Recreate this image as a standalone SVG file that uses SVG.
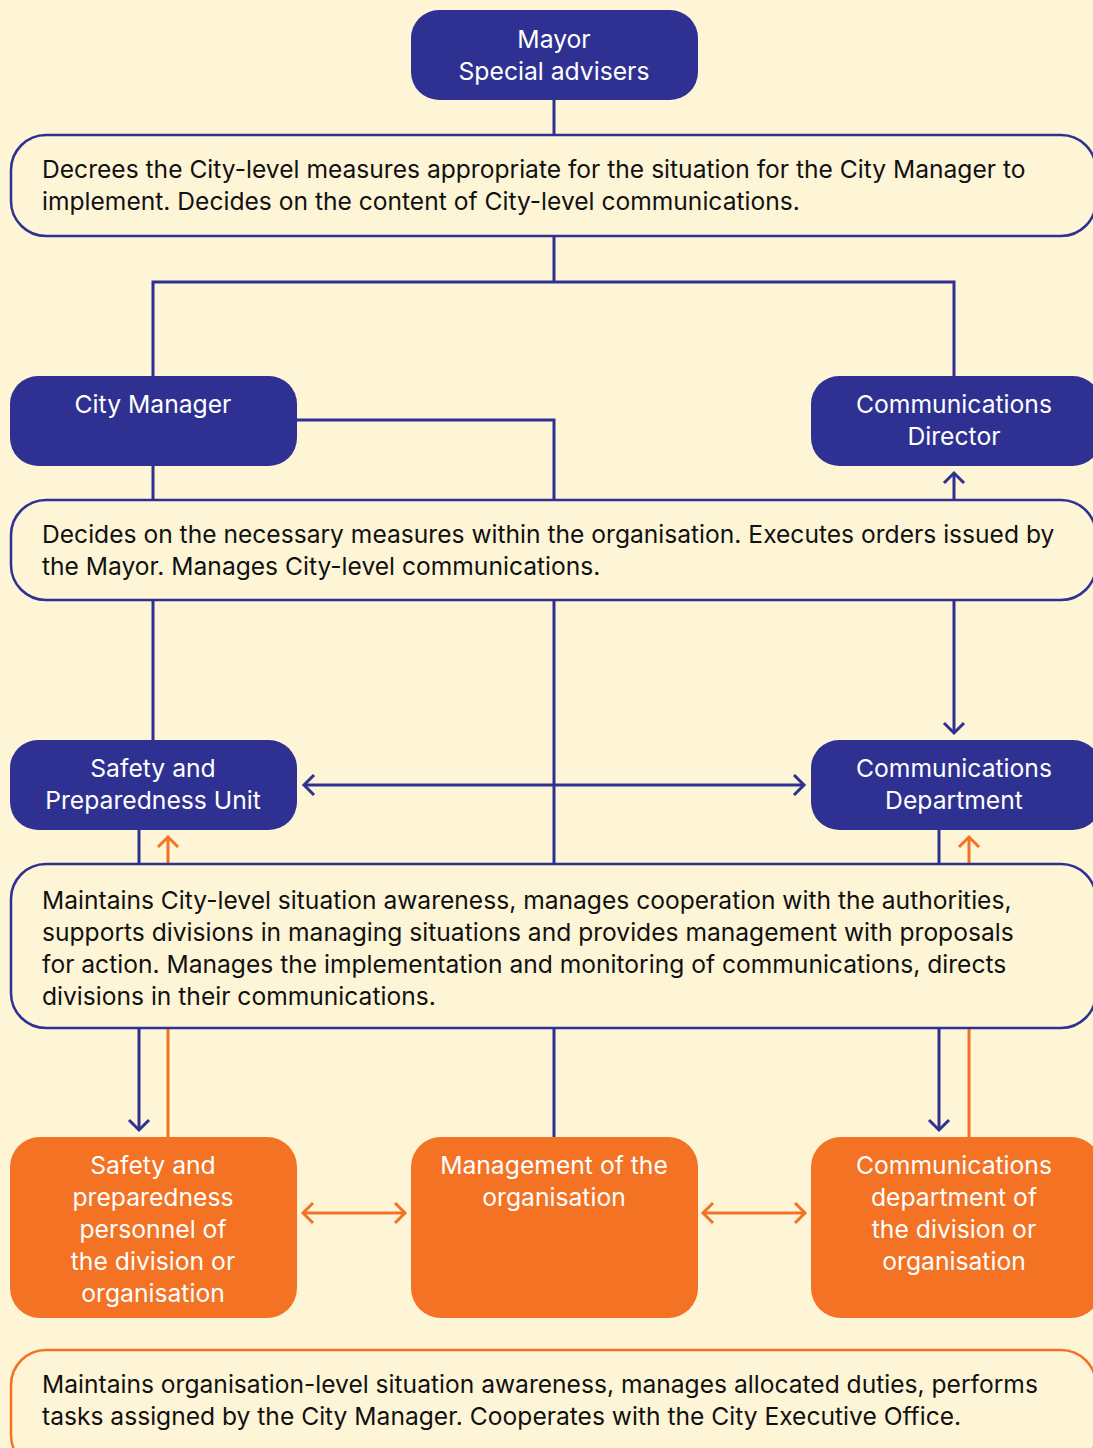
<svg xmlns="http://www.w3.org/2000/svg" width="1093" height="1448" viewBox="0 0 1093 1448">
<style>
.bg{fill:#FEF5D6}
.nv{fill:#2E3192}
.or{fill:#F37224}
.tb{fill:#FEF5D6;stroke:#2E3192;stroke-width:2.5}
.tbo{fill:#FEF5D6;stroke:#F37224;stroke-width:2.5}
.wt{font-family:Inter,"Liberation Sans",Arial,sans-serif;font-size:24.7px;fill:#ffffff;text-anchor:middle}
.bt{font-family:Inter,"Liberation Sans",Arial,sans-serif;font-size:24.6px;fill:#111111}
.cn{fill:none;stroke:#2E3192;stroke-width:3}
.co{fill:none;stroke:#F37224;stroke-width:3}
</style>
<defs>
<marker id="an" markerUnits="userSpaceOnUse" markerWidth="24" markerHeight="24" viewBox="-12 -12 24 24" refX="0" refY="0" orient="auto-start-reverse">
<path d="M-10,-10 L0,0 L-10,10" fill="none" stroke="#2E3192" stroke-width="3"/>
</marker>
<marker id="ao" markerUnits="userSpaceOnUse" markerWidth="24" markerHeight="24" viewBox="-12 -12 24 24" refX="0" refY="0" orient="auto-start-reverse">
<path d="M-10,-10 L0,0 L-10,10" fill="none" stroke="#F37224" stroke-width="3"/>
</marker>
</defs>
<rect class="bg" x="0" y="0" width="1093" height="1448"/>

<g id="connectors">
<line class="cn" x1="554" y1="100" x2="554" y2="135"/>
<polyline class="cn" points="554,236 554,282"/>
<polyline class="cn" points="153,376 153,282 954,282 954,376"/>
<polyline class="cn" points="296,420 554,420 554,500"/>
<line class="cn" x1="153" y1="465" x2="153" y2="500"/>
<line class="cn" x1="954" y1="500" x2="954" y2="473" marker-end="url(#an)"/>
<line class="cn" x1="153" y1="600" x2="153" y2="740"/>
<line class="cn" x1="554" y1="600" x2="554" y2="864"/>
<line class="cn" x1="954" y1="600" x2="954" y2="733" marker-end="url(#an)"/>
<line class="cn" x1="304" y1="785" x2="804" y2="785" marker-start="url(#an)" marker-end="url(#an)"/>
<line class="cn" x1="139" y1="830" x2="139" y2="864"/>
<line class="co" x1="168" y1="864" x2="168" y2="837" marker-end="url(#ao)"/>
<line class="cn" x1="939" y1="830" x2="939" y2="864"/>
<line class="co" x1="969" y1="864" x2="969" y2="837" marker-end="url(#ao)"/>
<line class="cn" x1="139" y1="1028" x2="139" y2="1130" marker-end="url(#an)"/>
<line class="co" x1="168" y1="1028" x2="168" y2="1137"/>
<line class="cn" x1="554" y1="1028" x2="554" y2="1137"/>
<line class="cn" x1="939" y1="1028" x2="939" y2="1130" marker-end="url(#an)"/>
<line class="co" x1="969" y1="1028" x2="969" y2="1137"/>
<line class="co" x1="303" y1="1213" x2="405" y2="1213" marker-start="url(#ao)" marker-end="url(#ao)"/>
<line class="co" x1="703" y1="1213" x2="805" y2="1213" marker-start="url(#ao)" marker-end="url(#ao)"/>
</g>

<g id="mayor">
<rect class="nv" x="411" y="10" width="287" height="90" rx="28"/>
<text class="wt" x="554" y="48">Mayor</text>
<text class="wt" x="554" y="80">Special advisers</text>
</g>

<g id="desc1">
<rect class="tb" x="11" y="135" width="1085" height="101" rx="35"/>
<text class="bt" x="42" y="178">Decrees the City-level measures appropriate for the situation for the City Manager to</text>
<text class="bt" x="42" y="210">implement. Decides on the content of City-level communications.</text>
</g>

<g id="city-manager">
<rect class="nv" x="10" y="376" width="287" height="90" rx="28"/>
<text class="wt" x="153" y="413">City Manager</text>
</g>

<g id="comm-director">
<rect class="nv" x="811" y="376" width="290" height="90" rx="28"/>
<text class="wt" x="954" y="413">Communications</text>
<text class="wt" x="954" y="445">Director</text>
</g>

<g id="desc2">
<rect class="tb" x="11" y="500" width="1085" height="100" rx="35"/>
<text class="bt" x="42" y="543">Decides on the necessary measures within the organisation. Executes orders issued by</text>
<text class="bt" x="42" y="575">the Mayor. Manages City-level communications.</text>
</g>

<g id="safety-unit">
<rect class="nv" x="10" y="740" width="287" height="90" rx="28"/>
<text class="wt" x="153" y="777">Safety and</text>
<text class="wt" x="153" y="809">Preparedness Unit</text>
</g>

<g id="comm-department">
<rect class="nv" x="811" y="740" width="290" height="90" rx="28"/>
<text class="wt" x="954" y="777">Communications</text>
<text class="wt" x="954" y="809">Department</text>
</g>

<g id="desc3">
<rect class="tb" x="11" y="864" width="1085" height="164" rx="35"/>
<text class="bt" x="42" y="909">Maintains City-level situation awareness, manages cooperation with the authorities,</text>
<text class="bt" x="42" y="941">supports divisions in managing situations and provides management with proposals</text>
<text class="bt" x="42" y="973">for action. Manages the implementation and monitoring of communications, directs</text>
<text class="bt" x="42" y="1005">divisions in their communications.</text>
</g>

<g id="safety-personnel">
<rect class="or" x="10" y="1137" width="287" height="181" rx="30"/>
<text class="wt" x="153" y="1174">Safety and</text>
<text class="wt" x="153" y="1206">preparedness</text>
<text class="wt" x="153" y="1238">personnel of</text>
<text class="wt" x="153" y="1270">the division or</text>
<text class="wt" x="153" y="1302">organisation</text>
</g>

<g id="management">
<rect class="or" x="411" y="1137" width="287" height="181" rx="30"/>
<text class="wt" x="554" y="1174">Management of the</text>
<text class="wt" x="554" y="1206">organisation</text>
</g>

<g id="comm-division">
<rect class="or" x="811" y="1137" width="290" height="181" rx="30"/>
<text class="wt" x="954" y="1174">Communications</text>
<text class="wt" x="954" y="1206">department of</text>
<text class="wt" x="954" y="1238">the division or</text>
<text class="wt" x="954" y="1270">organisation</text>
</g>

<g id="desc4">
<rect class="tbo" x="11" y="1350" width="1085" height="120" rx="35"/>
<text class="bt" x="42" y="1393">Maintains organisation-level situation awareness, manages allocated duties, performs</text>
<text class="bt" x="42" y="1425">tasks assigned by the City Manager. Cooperates with the City Executive Office.</text>
</g>
</svg>
